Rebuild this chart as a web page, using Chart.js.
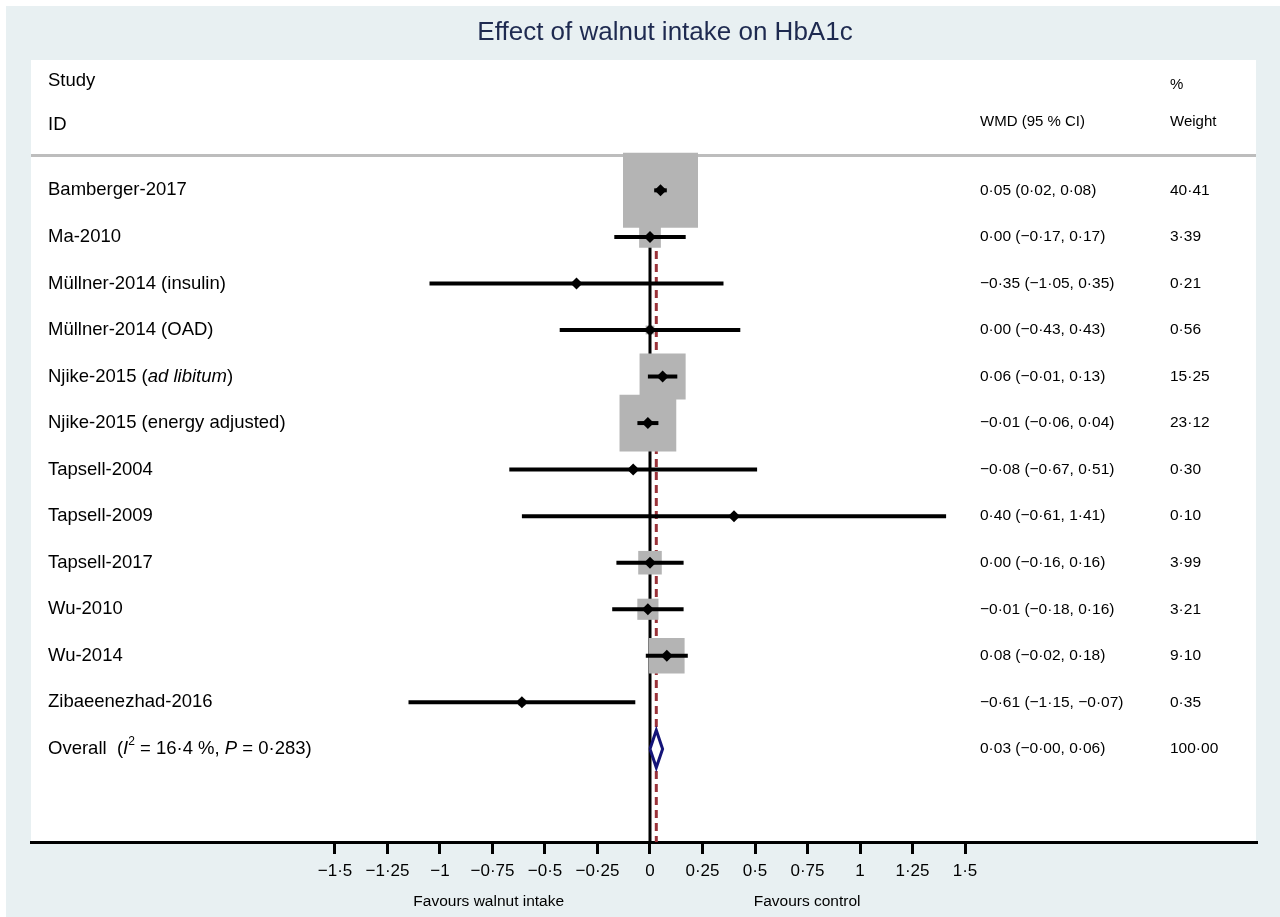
<!DOCTYPE html>
<html><head><meta charset="utf-8">
<script src="https://cdn.jsdelivr.net/npm/chart.js@4/dist/chart.umd.min.js"></script>
<style>html,body{margin:0;padding:0;background:#fff;}canvas{display:block;}</style>
</head><body>
<canvas id="c" width="1280" height="917"></canvas>
<script>
// ---- data ----
const chartTitle = 'Effect of walnut intake on HbA1c';
const studies = ['Bamberger-2017','Ma-2010','Müllner-2014 (insulin)','Müllner-2014 (OAD)','Njike-2015 (_ad libitum_)','Njike-2015 (energy adjusted)','Tapsell-2004','Tapsell-2009','Tapsell-2017','Wu-2010','Wu-2014','Zibaeenezhad-2016'];
const wmd     = [0.05, 0.00, -0.35, 0.00, 0.06, -0.01, -0.08, 0.40, 0.00, -0.01, 0.08, -0.61];
const ciLow   = [0.02, -0.17, -1.05, -0.43, -0.01, -0.06, -0.67, -0.61, -0.16, -0.18, -0.02, -1.15];
const ciHigh  = [0.08, 0.17, 0.35, 0.43, 0.13, 0.04, 0.51, 1.41, 0.16, 0.16, 0.18, -0.07];
const weights = [40.41, 3.39, 0.21, 0.56, 15.25, 23.12, 0.30, 0.10, 3.99, 3.21, 9.10, 0.35];
const overallLabel = 'Overall  (_I_^2^ = 16·4 %, _P_ = 0·283)';
const overallWMD = 0.03, overallLow = -0.00, overallHigh = 0.06, overallWeight = 100.00;
const tickValues = [-1.5,-1.25,-1,-0.75,-0.5,-0.25,0,0.25,0.5,0.75,1,1.25,1.5];
const xAxisLabels = ['Favours walnut intake','Favours control'];

// ---- layout / style constants ----
const FONT = '"Liberation Sans", Arial, Helvetica, sans-serif';
const X_MIN = -2.9476, X_MAX = 2.8857;
const Y_MIN = -2.8, Y_MAX = 14.0;
const HEADER_LINE_Y = -0.75;
const SQ_K = 11.8;
const overallRow = studies.length;

function fmt(v, d) {
  const neg = v < 0 || Object.is(v, -0);
  const s = (d == null ? String(Math.abs(v)) : Math.abs(v).toFixed(d)).replace('.', '·');
  return (neg ? '−' : '') + s;
}
function ciText(e, l, h) { return fmt(e,2) + ' (' + fmt(l,2) + ', ' + fmt(h,2) + ')'; }

function drawRich(ctx, text, x, y, size) {
  let italic = false, sup = false, buf = '', cx = x;
  const flush = () => {
    if (!buf) return;
    const fs = sup ? size * 0.65 : size;
    ctx.font = (italic ? 'italic ' : '') + fs + 'px ' + FONT;
    ctx.fillText(buf, cx, sup ? y - size * 0.38 : y);
    cx += ctx.measureText(buf).width;
    buf = '';
  };
  for (const ch of text) {
    if (ch === '_') { flush(); italic = !italic; }
    else if (ch === '^') { flush(); sup = !sup; }
    else buf += ch;
  }
  flush();
}

const framePlugin = {
  id: 'frame',
  beforeDraw(chart) {
    const {ctx, chartArea: a, width, height} = chart;
    ctx.save();
    ctx.fillStyle = '#ffffff';
    ctx.fillRect(0, 0, width, height);
    ctx.fillStyle = '#e8f0f2';
    ctx.fillRect(6, 6, width - 6, height - 6);
    ctx.fillStyle = '#ffffff';
    ctx.fillRect(a.left, a.top, a.right - a.left, a.bottom - a.top);
    ctx.fillStyle = '#1e2a50';
    ctx.font = '26px ' + FONT;
    ctx.textAlign = 'center';
    ctx.textBaseline = 'middle';
    ctx.fillText(chartTitle, 665, 33);
    ctx.restore();
  },
  beforeDatasetsDraw(chart) {
    const {ctx, chartArea: a, scales: {y}} = chart;
    ctx.save();
    ctx.strokeStyle = '#bdbdbd';
    ctx.lineWidth = 3;
    const py = y.getPixelForValue(HEADER_LINE_Y);
    ctx.beginPath(); ctx.moveTo(a.left, py); ctx.lineTo(a.right, py); ctx.stroke();
    ctx.restore();
  },
  afterDraw(chart) {
    const {ctx, scales: {x, y}} = chart;
    ctx.save();
    ctx.fillStyle = '#000';
    ctx.textBaseline = 'middle';
    ctx.textAlign = 'left';
    ctx.font = '18.5px ' + FONT;
    ctx.fillText('Study', 48, 81);
    ctx.fillText('ID', 48, 125);
    ctx.font = '15px ' + FONT;
    ctx.fillText('WMD (95 % CI)', 980, 122);
    ctx.fillText('%', 1170, 85);
    ctx.fillText('Weight', 1170, 122);
    studies.forEach((s, i) => {
      const py = y.getPixelForValue(i);
      drawRich(ctx, s, 48, py, 18.5);
      ctx.font = '15.5px ' + FONT;
      ctx.fillText(ciText(wmd[i], ciLow[i], ciHigh[i]), 980, py);
      ctx.fillText(fmt(weights[i], 2), 1170, py);
    });
    const po = y.getPixelForValue(overallRow);
    drawRich(ctx, overallLabel, 48, po, 18.5);
    ctx.font = '15.5px ' + FONT;
    ctx.fillText(ciText(overallWMD, overallLow, overallHigh), 980, po);
    ctx.fillText(fmt(overallWeight, 2), 1170, po);
    ctx.font = '15.5px ' + FONT;
    ctx.textAlign = 'center';
    ctx.fillText(xAxisLabels[0], x.getPixelForValue(-0.768), 902);
    ctx.fillText(xAxisLabels[1], x.getPixelForValue(0.748), 902);
    ctx.restore();
  }
};

const ciDatasets = studies.map((s, i) => ({
  type: 'scatter', showLine: true,
  data: [{x: ciLow[i], y: i}, {x: ciHigh[i], y: i}],
  borderColor: '#000', borderWidth: 4, pointRadius: 0, order: 4
}));

new Chart(document.getElementById('c'), {
  type: 'scatter',
  data: {
    datasets: [
      { type: 'scatter', showLine: true, data: [{x: 0, y: HEADER_LINE_Y}, {x: 0, y: Y_MAX}],
        borderColor: '#000', borderWidth: 3, pointRadius: 0, order: 10 },
      { type: 'scatter', showLine: true, data: [{x: overallWMD, y: -0.65}, {x: overallWMD, y: Y_MAX}],
        borderColor: '#9a3239', borderWidth: 3, borderDash: [8, 5], pointRadius: 0, order: 9 },
      { type: 'scatter', data: wmd.map((v, i) => ({x: v, y: i})),
        pointStyle: 'rect', backgroundColor: '#b4b4b4', borderWidth: 0,
        pointRadius: ctx => SQ_K * Math.sqrt(weights[ctx.dataIndex]) / Math.SQRT2, order: 5 },
      ...ciDatasets,
      { type: 'scatter', data: wmd.map((v, i) => ({x: v, y: i})),
        pointStyle: 'rectRot', backgroundColor: '#000', borderColor: '#000', borderWidth: 0,
        pointRadius: 6, order: 3 },
      { type: 'scatter', showLine: true,
        data: [{x: overallLow, y: overallRow}, {x: overallWMD, y: overallRow - 0.4},
               {x: overallHigh, y: overallRow}, {x: overallWMD, y: overallRow + 0.4},
               {x: overallLow, y: overallRow}],
        borderColor: '#141478', borderWidth: 3, backgroundColor: '#fff', fill: 'shape',
        pointRadius: 0, order: 2 }
    ]
  },
  options: {
    responsive: false,
    animation: false,
    devicePixelRatio: 1,
    layout: { autoPadding: false, padding: { left: 31, right: 24, top: 60, bottom: 0 } },
    plugins: { legend: { display: false }, tooltip: { enabled: false }, title: { display: false } },
    scales: {
      x: {
        type: 'linear', min: X_MIN, max: X_MAX,
        afterBuildTicks: s => { s.ticks = tickValues.map(v => ({value: v})); },
        afterFit: s => { s.height = 75; s.paddingLeft = 0; s.paddingRight = 0; s.paddingTop = 0; s.paddingBottom = 0; },
        grid: { drawOnChartArea: false, drawTicks: true, tickLength: 12, color: '#000', lineWidth: 3 },
        border: { display: true, color: '#000', width: 3 },
        ticks: { autoSkip: false, maxRotation: 0, padding: 7, color: '#000',
                 font: { family: FONT, size: 17 }, callback: v => fmt(v) }
      },
      y: { type: 'linear', reverse: true, min: Y_MIN, max: Y_MAX, display: false }
    }
  },
  plugins: [framePlugin]
});
</script>
</body></html>
